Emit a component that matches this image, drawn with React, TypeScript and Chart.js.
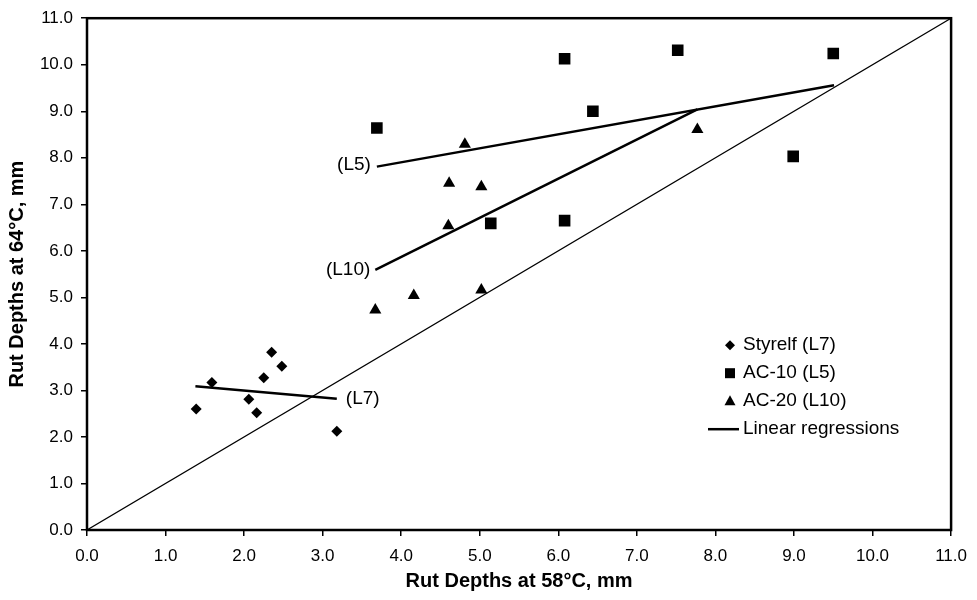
import React, { useEffect, useRef } from "react";
import { Chart, registerables } from "chart.js";

Chart.register(...registerables);

// ---- data ----
const styrelfX = [1.39, 1.59, 2.06, 2.16, 2.25, 2.35, 2.48, 3.18];
const styrelfY = [2.6, 3.17, 2.81, 2.52, 3.27, 3.82, 3.52, 2.12];
const ac10X = [3.69, 5.14, 6.08, 6.08, 6.44, 7.52, 8.99, 9.5];
const ac10Y = [8.64, 6.59, 10.13, 6.65, 9.0, 10.31, 8.03, 10.24];
const ac20X = [3.67, 4.16, 4.6, 4.61, 4.81, 5.02, 5.02, 7.77];
const ac20Y = [4.73, 5.04, 6.54, 7.45, 8.29, 7.38, 5.16, 8.61];
const regL7X = [1.38, 3.18];
const regL7Y = [3.09, 2.82];
const regL5X = [3.69, 9.51];
const regL5Y = [7.81, 9.56];
const regL10X = [3.67, 7.77];
const regL10Y = [5.59, 9.04];
const diagX = [0, 11];
const diagY = [0, 11];
const axisMin = 0;
const axisMax = 11;
const legendLabels = ["Styrelf (L7)", "AC-10 (L5)", "AC-20 (L10)", "Linear regressions"];
const regLabels = ["(L7)", "(L5)", "(L10)"];
const xTitle = "Rut Depths at 58°C, mm";
const yTitle = "Rut Depths at 64°C, mm";

const FONT = "'Liberation Sans', Arial, sans-serif";

const pts = (xs: number[], ys: number[]) => xs.map((x, i) => ({ x, y: ys[i] }));

const overlayPlugin = {
  id: "overlay",
  afterDatasetsDraw(chart: any) {
    const { ctx, chartArea: ca, scales } = chart;
    const sx = scales.x;
    const sy = scales.y;
    ctx.save();
    // frame
    ctx.strokeStyle = "#000";
    ctx.lineWidth = 2.5;
    ctx.strokeRect(ca.left, ca.top, ca.right - ca.left, ca.bottom - ca.top);

    // regression labels
    ctx.fillStyle = "#000";
    ctx.font = `19px ${FONT}`;
    ctx.textBaseline = "middle";
    ctx.textAlign = "left";
    ctx.fillText(regLabels[0], sx.getPixelForValue(regL7X[1]) + 9, sy.getPixelForValue(regL7Y[1]));
    ctx.textAlign = "right";
    ctx.fillText(regLabels[1], sx.getPixelForValue(regL5X[0]) - 6, sy.getPixelForValue(regL5Y[0]) - 2);
    ctx.fillText(regLabels[2], sx.getPixelForValue(regL10X[0]) - 5, sy.getPixelForValue(regL10Y[0]));

    // legend
    const lx = ca.left + 643; // marker center
    const ly0 = ca.top + 327;
    const dy = 28;
    ctx.textAlign = "left";
    const tx = lx + 13;
    // diamond
    let y = ly0;
    ctx.beginPath();
    ctx.moveTo(lx, y - 5);
    ctx.lineTo(lx + 5, y);
    ctx.lineTo(lx, y + 5);
    ctx.lineTo(lx - 5, y);
    ctx.closePath();
    ctx.fill();
    ctx.fillText(legendLabels[0], tx, y);
    // square
    y = ly0 + dy;
    ctx.fillRect(lx - 5, y - 5, 10, 10);
    ctx.fillText(legendLabels[1], tx, y);
    // triangle
    y = ly0 + 2 * dy;
    ctx.beginPath();
    ctx.moveTo(lx, y - 6);
    ctx.lineTo(lx + 5.5, y + 4);
    ctx.lineTo(lx - 5.5, y + 4);
    ctx.closePath();
    ctx.fill();
    ctx.fillText(legendLabels[2], tx, y);
    // line
    y = ly0 + 3 * dy;
    ctx.lineWidth = 2.5;
    ctx.beginPath();
    ctx.moveTo(lx - 22, y);
    ctx.lineTo(lx + 9, y);
    ctx.stroke();
    ctx.fillText(legendLabels[3], tx, y);
    ctx.restore();
  },
};

export default function App() {
  const ref = useRef<HTMLCanvasElement | null>(null);
  useEffect(() => {
    if (!ref.current) return;
    const lineDs = (xs: number[], ys: number[], w: number) => ({
      type: "line" as const,
      data: pts(xs, ys),
      borderColor: "#000",
      borderWidth: w,
      pointRadius: 0,
      showLine: true,
      fill: false,
      tension: 0,
    });
    const chart = new Chart(ref.current, {
      type: "scatter",
      data: {
        datasets: [
          lineDs(diagX, diagY, 1.2),
          lineDs(regL7X, regL7Y, 2.5),
          lineDs(regL5X, regL5Y, 2.5),
          lineDs(regL10X, regL10Y, 2.5),
          {
            label: legendLabels[0],
            data: pts(styrelfX, styrelfY),
            pointStyle: "rectRot",
            pointRadius: 5.5,
            backgroundColor: "#000",
            borderColor: "#000",
            borderWidth: 0,
          },
          {
            label: legendLabels[1],
            data: pts(ac10X, ac10Y),
            pointStyle: "rect",
            pointRadius: 8.2,
            backgroundColor: "#000",
            borderColor: "#000",
            borderWidth: 0,
          },
          {
            label: legendLabels[2],
            data: pts(ac20X, ac20Y),
            pointStyle: "triangle",
            pointRadius: 7,
            backgroundColor: "#000",
            borderColor: "#000",
            borderWidth: 0,
          },
        ] as any,
      },
      options: {
        animation: false,
        responsive: false,
        maintainAspectRatio: false,
        layout: { padding: { top: 17, right: 21, left: 0, bottom: 0 } },
        plugins: { legend: { display: false }, tooltip: { enabled: false } },
        scales: {
          x: {
            type: "linear",
            min: axisMin,
            max: axisMax,
            afterFit: (s: any) => {
              s.height = 70;
            },
            border: { display: false },
            grid: { drawOnChartArea: false, drawTicks: true, tickLength: 6, color: "#000", lineWidth: 1.5 },
            ticks: {
              stepSize: 1,
              color: "#000",
              padding: 10,
              font: { family: FONT, size: 17 },
              callback: (v: any) => Number(v).toFixed(1),
            },
            title: {
              display: true,
              text: xTitle,
              color: "#000",
              font: { family: FONT, size: 20, weight: "bold" },
              padding: { top: 0, bottom: 7 },
            },
          },
          y: {
            type: "linear",
            min: axisMin,
            max: axisMax,
            afterFit: (s: any) => {
              s.width = 87;
            },
            border: { display: false },
            grid: { drawOnChartArea: false, drawTicks: true, tickLength: 6, color: "#000", lineWidth: 1.5 },
            ticks: {
              stepSize: 1,
              color: "#000",
              padding: 8,
              font: { family: FONT, size: 17 },
              callback: (v: any) => Number(v).toFixed(1),
            },
            title: {
              display: true,
              text: yTitle,
              color: "#000",
              font: { family: FONT, size: 20, weight: "bold" },
              padding: { top: 5, bottom: 0 },
            },
          },
        },
      },
      plugins: [overlayPlugin],
    });
    return () => chart.destroy();
  }, []);
  return (
    <div style={{ position: "fixed", left: 0, top: 0, width: 977, height: 600, background: "#fff" }}>
      <canvas ref={ref} width={977} height={600} style={{ width: 977, height: 600 }} />
    </div>
  );
}
